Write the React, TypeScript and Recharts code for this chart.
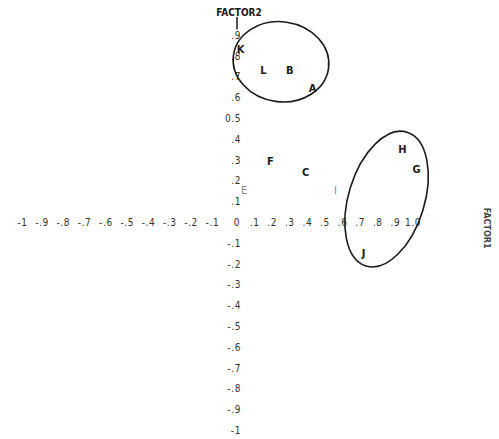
import { ScatterChart, Scatter, XAxis, YAxis, ReferenceDot, ReferenceLine } from 'recharts'

// loadings of each variable on the two factors
const variables = ['K', 'L', 'B', 'A', 'F', 'C', 'I', 'E', 'H', 'G', 'J']
const factor1 = [0.02, 0.15, 0.3, 0.43, 0.19, 0.39, 0.56, 0.04, 0.94, 1.02, 0.72]
const factor2 = [0.83, 0.73, 0.73, 0.64, 0.29, 0.24, 0.15, 0.15, 0.35, 0.25, -0.15]
const faintVariables = ['I', 'E']

// centres of the two circled groups
const groupX = [0.25, 0.85]
const groupY = [0.77, 0.11]

const xPosTicks = [0.1, 0.2, 0.3, 0.4, 0.5, 0.6, 0.7, 0.8, 0.9, 1.0]
const xPosLabels = ['.1', '.2', '.3', '.4', '.5', '.6', '.7', '.8', '.9', '1.0']
const xNegTicks = [-1, -0.9, -0.8, -0.7, -0.6, -0.5, -0.4, -0.3, -0.2, -0.1]
const xNegLabels = ['-1', '-.9', '-.8', '-.7', '-.6', '-.5', '-.4', '-.3', '-.2', '-.1']
const yTicks = [0.9, 0.8, 0.7, 0.6, 0.5, 0.4, 0.3, 0.2, 0.1, -0.1, -0.2, -0.3, -0.4, -0.5, -0.6, -0.7, -0.8, -0.9, -1]
const yLabels = ['.9', '.8', '.7', '.6', '0.5', '.4', '.3', '.2', '.1', '-.1', '-.2', '-.3', '-.4', '-.5', '-.6', '-.7', '-.8', '-.9', '-1']

const FONT = "'DejaVu Sans Condensed', 'DejaVu Sans', sans-serif"
const INK = '#1a1a1a'
const TICK_INK = '#333'

// ellipse radii (px) and tilt (deg) for each group outline
const groupShapes = [
  { rx: 48, ry: 40, angle: 8 },
  { rx: 38, ry: 70, angle: 17 },
]

const points = variables.map((name, i) => ({ x: factor1[i], y: factor2[i], name }))
// the negative half of factor 1 is spaced wider, so it rides its own axis
const negTickPoints = xNegTicks.map((t, i) => ({ x: t, y: 0, label: xNegLabels[i] }))

const Letter = (props: any) => {
  const { cx, cy, payload } = props
  const faint = faintVariables.includes(payload.name)
  return (
    <text
      x={cx}
      y={cy}
      textAnchor="middle"
      dominantBaseline="central"
      fontFamily={FONT}
      fontSize={11}
      fontWeight={faint ? 400 : 700}
      fill={faint ? '#888' : INK}
    >
      {payload.name}
    </text>
  )
}

const tickText = (label: string, anchor: 'start' | 'middle' | 'end', dx: number) => (p: any) => (
  <text
    x={p.cx + dx}
    y={p.cy}
    dy={4}
    textAnchor={anchor}
    fontFamily={FONT}
    fontSize={10}
    letterSpacing={0.6}
    fill={TICK_INK}
  >
    {label}
  </text>
)

const NegTick = (p: any) => tickText(p.payload.label, 'end', 3.5)(p)

export default function App() {
  return (
    <div style={{ position: 'absolute', left: 0, top: 0, width: 499, height: 439, background: '#fff' }}>
      <ScatterChart width={499} height={439} margin={{ top: 0, right: 0, bottom: 0, left: 0 }}>
        <XAxis type="number" dataKey="x" domain={[-1.347, 1.489]} allowDataOverflow hide />
        <XAxis xAxisId="neg" type="number" dataKey="x" domain={[-1.113, 1.23]} allowDataOverflow hide />
        <YAxis type="number" dataKey="y" domain={[-1.043, 1.067]} allowDataOverflow hide />

        {/* origin and axis tick labels */}
        <ReferenceDot x={0} y={0} r={0} shape={tickText('0', 'middle', 0)} />
        {xPosTicks.map((t, i) => (
          <ReferenceDot key={'xp' + t} x={t} y={0} r={0} shape={tickText(xPosLabels[i], 'middle', 0)} />
        ))}
        <Scatter xAxisId="neg" data={negTickPoints} shape={NegTick} isAnimationActive={false} />
        {yTicks.map((t, i) => (
          <ReferenceDot key={'y' + t} x={0} y={t} r={0} shape={tickText(yLabels[i], 'end', 4)} />
        ))}

        {/* axis titles */}
        <ReferenceLine segment={[{ x: 0, y: 0.925 }, { x: 0, y: 0.985 }]} stroke={INK} strokeWidth={1.5} />
        <ReferenceDot
          x={0}
          y={1.0}
          r={0}
          shape={(p: any) => (
            <text x={p.cx + 2} y={p.cy} dy={2} textAnchor="middle" fontFamily={FONT} fontSize={10} fontWeight={700} fill={INK}>
              FACTOR2
            </text>
          )}
        />
        <ReferenceDot
          x={1.42}
          y={-0.03}
          r={0}
          shape={(p: any) => (
            <text
              x={p.cx}
              y={p.cy}
              textAnchor="middle"
              dominantBaseline="central"
              transform={`rotate(90 ${p.cx} ${p.cy})`}
              fontFamily={FONT}
              fontSize={9}
              fontWeight={700}
              fill="#444"
            >
              FACTOR1
            </text>
          )}
        />

        {/* group outlines */}
        {groupX.map((gx, i) => (
          <ReferenceDot
            key={'g' + i}
            x={gx}
            y={groupY[i]}
            r={0}
            shape={(p: any) => (
              <ellipse
                cx={p.cx}
                cy={p.cy}
                rx={groupShapes[i].rx}
                ry={groupShapes[i].ry}
                transform={`rotate(${groupShapes[i].angle} ${p.cx} ${p.cy})`}
                fill="none"
                stroke={INK}
                strokeWidth={1.6}
              />
            )}
          />
        ))}

        <Scatter data={points} shape={Letter} isAnimationActive={false} />
      </ScatterChart>
    </div>
  )
}
